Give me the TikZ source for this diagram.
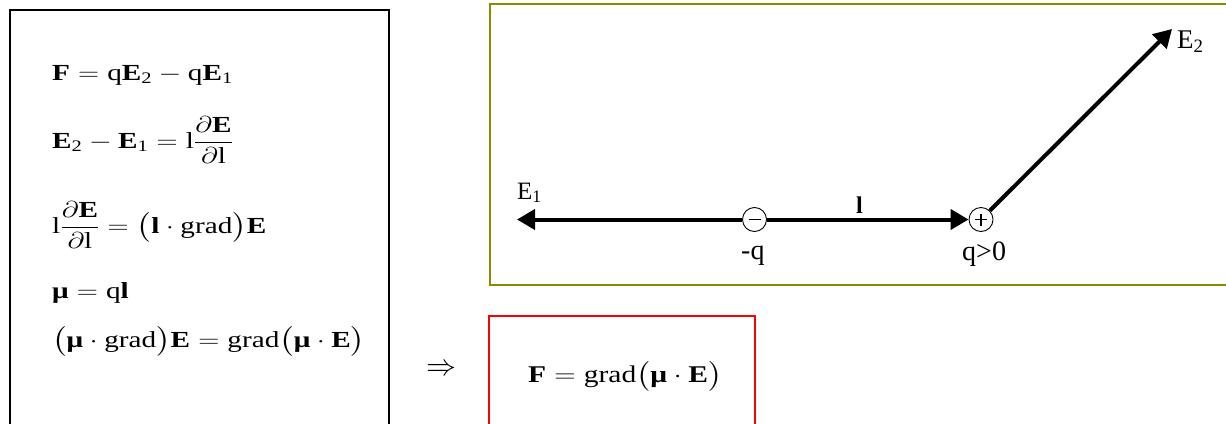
\RequirePackage{fix-cm}
\documentclass[tikz,border=0pt]{standalone}
\usepackage{amsmath}
\usepackage{fontspec}
\setmainfont{Liberation Serif}
\usetikzlibrary{arrows.meta}
\newcommand\vE{\textbf{E}}
\newcommand\vF{\textbf{F}}
\newcommand\vl{\textbf{l}}
\newcommand\vmu{\textbf{μ}}
\newcommand\wide[1]{\scalebox{1.27}[1]{#1}}
\tikzset{
  eq/.style={anchor=base west, inner sep=0pt, font=\fontsize{23}{28}\selectfont},
  lbl/.style={anchor=base west, inner sep=0pt, font=\fontsize{25}{28}\selectfont},
  qlbl/.style={anchor=base west, inner sep=0pt, font=\fontsize{28}{30}\selectfont},
  charge/.style={circle, draw, line width=0.9pt, minimum size=24pt, inner sep=0pt, fill=white},
  vec/.style={line width=4pt, -{Triangle[length=18pt,width=20pt]}},
  leftbox/.style={draw=black, line width=2pt},
  greenbox/.style={draw={rgb,255:red,140;green,140;blue,0}, line width=2.5pt},
  redbox/.style={draw=red, line width=1.6pt}
}
\begin{document}
\begin{tikzpicture}[x=1pt,y=-1pt]
\useasboundingbox (0,0) rectangle (1226,423);
\clip (0,0) rectangle (1226,423);
% boxes
\draw[leftbox] (10,10) rectangle (389,450);
\draw[greenbox] (490,4) rectangle (1240,285);
\draw[redbox] (489,316) rectangle (755,450);
% left equations
\node[eq] (r1) at (52,80) {\wide{$\vF = \text{q}\vE_{\text{2}} - \text{q}\vE_{\text{1}}$}};
\node[eq] (r2) at (52,148) {\wide{$\vE_{\text{2}} - \vE_{\text{1}} = \text{l}\dfrac{\partial\vE}{\partial\text{l}}$}};
\node[eq] (r3) at (52,233) {\wide{$\text{l}\dfrac{\partial\vE}{\partial\text{l}} = \bigl(\vl\cdot\text{grad}\bigr)\vE$}};
\node[eq] (r4) at (52,298) {\wide{$\vmu = \text{q}\vl$}};
\node[eq] (r5) at (52,347) {\wide{$\bigl(\vmu\cdot\text{grad}\bigr)\vE = \text{grad}\bigl(\vmu\cdot\vE\bigr)$}};
% implies and result
\node[inner sep=0pt, font=\fontsize{30}{32}\selectfont] (impl) at (441,370) {$\Rightarrow$};
\node[eq, font=\fontsize{24}{28}\selectfont] (res) at (528,382) {\scalebox{1.23}[1]{$\vF = \text{grad}\bigl(\vmu\cdot\vE\bigr)$}};
% dipole
\node[charge] (neg) at (754.5,219.5) {};
\node[charge] (pos) at (981,219.5) {};
\coordinate (e1tip) at (517,219.5);
\coordinate (e2tip) at (1172,29);
\draw[vec] (neg.west) -- (e1tip);
\draw[vec] (neg.east) -- (pos.west);
\draw[vec] (pos.45) -- (e2tip);
\draw[line width=1.6pt] ([xshift=-6pt]neg.center) -- ([xshift=6pt]neg.center);
\draw[line width=1.6pt] ([xshift=-6pt]pos.center) -- ([xshift=6pt]pos.center)
      ([yshift=-6pt]pos.center) -- ([yshift=6pt]pos.center);
% labels
\node[lbl] (le1) at (517,199) {$\text{E}_{\text{1}}$};
\node[lbl, font=\fontsize{27}{30}\selectfont] (le2) at (1177,48) {$\text{E}_{\text{2}}$};
\node[lbl, font=\fontsize{24}{28}\bfseries] (ll) at (856,213) {l};
\node[qlbl] (lneg) at (741,259) {-q};
\node[qlbl] (lpos) at (962,260) {q>0};
\end{tikzpicture}
\end{document}
